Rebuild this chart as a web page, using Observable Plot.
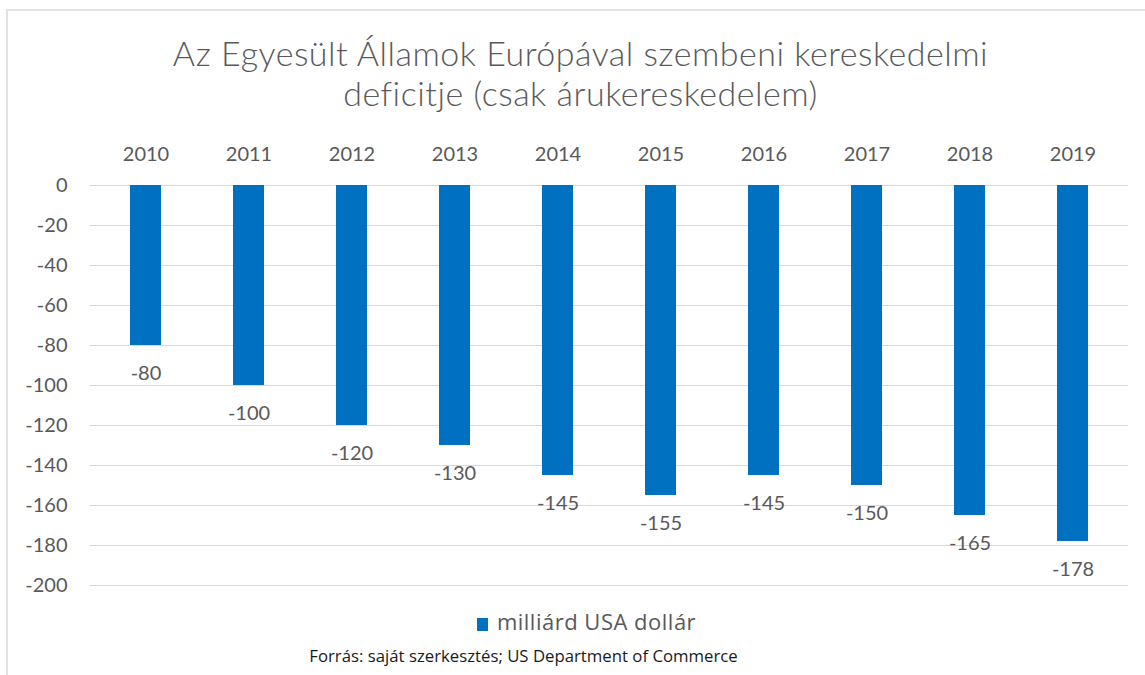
<!DOCTYPE html>
<html>
<head>
<meta charset="utf-8">
<script src="https://cdn.jsdelivr.net/npm/d3@7"></script>
<script src="https://cdn.jsdelivr.net/npm/@observablehq/plot@0.6"></script>
<style>
  html, body { margin: 0; padding: 0; background: #fff; }
  #wrap { position: relative; width: 1145px; height: 675px; overflow: hidden; font-family: Lato, "Open Sans", sans-serif; }
  #frame { position: absolute; left: 6px; top: 9px; width: 1200px; height: 700px; border-top: 2px solid #e2e2e2; border-left: 2px solid #e2e2e2; }
  #title { position: absolute; left: 8px; width: 1145px; top: 33px; text-align: center; color: #595959; font-size: 34px; line-height: 40px; letter-spacing: 0.5px; font-weight: 300; white-space: nowrap; }
  #chart { position: absolute; left: 0; top: 130px; }
  #legend { position: absolute; left: 14px; width: 1145px; top: 610px; text-align: center; color: #595959; font-family: "Open Sans", sans-serif; font-size: 22px; line-height: 22px; letter-spacing: 0.5px; white-space: nowrap; }
  #legend .sw { display: inline-block; width: 11px; height: 13px; background: #0070c0; margin-right: 9px; vertical-align: -1px; }
  #caption { position: absolute; left: -49px; width: 1145px; top: 647px; text-align: center; color: #1a1a1a; font-family: "Open Sans", sans-serif; font-size: 16.75px; line-height: 17px; white-space: nowrap; }
</style>
</head>
<body>
<div id="wrap">
  <div id="frame"></div>
  <div id="title">Az Egyesült Államok Európával szembeni kereskedelmi<br>deficitje (csak árukereskedelem)</div>
  <div id="chart"></div>
  <div id="legend"><span class="sw"></span>milliárd USA dollár</div>
  <div id="caption">Forrás: saját szerkesztés; US Department of Commerce</div>
</div>
<script>
const years = ["2010","2011","2012","2013","2014","2015","2016","2017","2018","2019"];
const values = [-80, -100, -120, -130, -145, -155, -145, -150, -165, -178];
const yTicks = [0, -20, -40, -60, -80, -100, -120, -140, -160, -180, -200];

const data = years.map((y, i) => ({year: y, value: values[i]}));

const chart = Plot.plot({
  width: 1145,
  height: 466,
  marginTop: 55,
  marginBottom: 11,
  marginLeft: 90,
  marginRight: 17,
  style: {fontFamily: "Lato, 'Open Sans', sans-serif", fontSize: "19px", color: "#595959", background: "transparent"},
  x: {domain: years, paddingInner: 0.70, paddingOuter: 0.35, axis: "top", tickSize: 0, tickPadding: 25, label: null},
  y: {domain: [-200, 0], ticks: yTicks, tickSize: 0, tickPadding: 23, label: null, tickFormat: d => String(d)},
  marks: [
    Plot.ruleY(yTicks, {stroke: "#d9d9d9", strokeWidth: 1.2}),
    Plot.barY(data, {x: "year", y1: 0, y2: "value", fill: "#0070c0"}),
    Plot.text(data, {x: "year", y: "value", text: d => String(d.value), dy: 28, fill: "#595959", fontSize: 20})
  ]
});
chart.querySelectorAll("[aria-label='y-axis tick label'] text, [aria-label='x-axis tick label'] text").forEach(t => t.style.fontSize = "20px");
document.getElementById("chart").appendChild(chart);
</script>
</body>
</html>
